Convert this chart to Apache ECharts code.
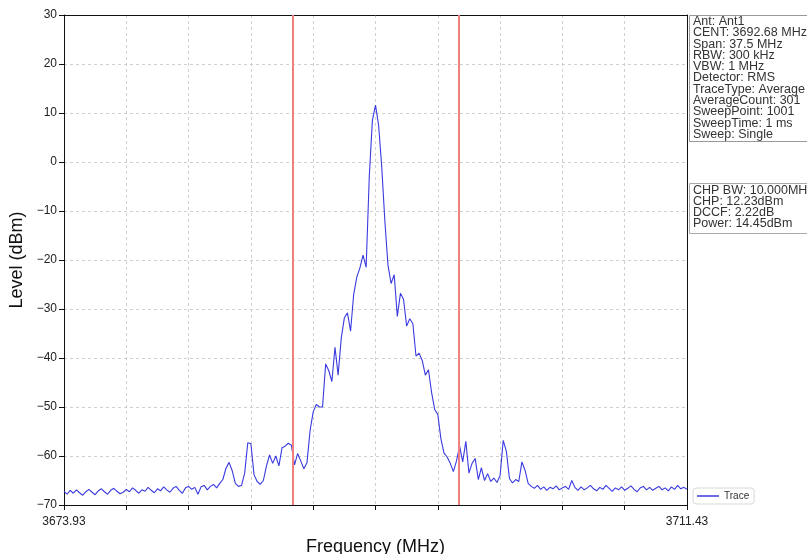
<!DOCTYPE html>
<html>
<head>
<meta charset="utf-8">
<script src="https://cdn.jsdelivr.net/npm/echarts@6/dist/echarts.min.js"></script>
<style>
  html, body { margin: 0; padding: 0; background: #fff; }
  #spectrum-box { width: 807px; height: 554px; }
</style>
</head>
<body>
<div id="spectrum-box"></div>
<script>
// sweep: 201 samples, 0.1875 MHz apart, from 3673.93 MHz
const startFreq = 3673.93;
const stepMHz = 0.1875;
const levels = [
  -67.2, -67.8, -67.0, -67.6, -66.9, -67.5, -68.0, -67.3, -66.8, -67.4,
  -67.9, -67.1, -66.7, -67.3, -67.8, -67.0, -66.6, -67.2, -67.7, -67.4,
  -66.8, -67.3, -66.5, -67.0, -67.6, -66.9, -67.2, -66.4, -67.0, -67.5,
  -66.7, -67.1, -66.3, -66.9, -67.4, -66.6, -66.2, -67.0, -67.6, -66.5,
  -66.2, -66.8, -66.4, -67.8, -66.3, -66.0, -66.9, -66.2, -65.8, -66.5,
  -65.6, -64.8, -62.5, -61.3, -63.0, -65.6, -66.2, -66.0, -63.5, -57.3,
  -57.5, -63.8, -65.2, -65.8, -65.0, -62.0, -59.8, -61.5, -60.0, -62.0,
  -58.3, -58.0, -57.4, -57.8, -61.8, -59.5, -61.0, -62.6, -61.4, -54.8,
  -51.0, -49.5, -50.0, -50.0, -41.2, -42.6, -44.8, -37.8, -43.5, -36.0,
  -31.8, -30.8, -34.5, -27.0, -23.5, -21.6, -19.0, -21.5, -3.0, 8.5,
  11.6, 7.5, -1.0, -12.0, -21.0, -24.8, -23.0, -31.5, -26.8, -28.0,
  -33.5, -32.0, -33.0, -39.6, -39.0, -40.5, -43.5, -42.4, -47.0, -50.5,
  -51.5, -56.5, -59.4, -60.2, -61.5, -63.2, -61.0, -58.0, -61.2, -57.0,
  -63.5, -61.5, -60.5, -64.8, -62.4, -65.0, -63.6, -65.2, -64.5, -65.4,
  -64.0, -56.8, -59.0, -64.6, -65.5, -64.8, -65.2, -61.2, -62.9, -65.6,
  -66.2, -66.6, -66.0, -66.8, -66.3, -67.0, -66.4, -66.7, -66.1, -66.9,
  -66.5, -66.2, -66.8, -65.0, -66.4, -67.0, -66.3, -66.9, -66.5, -66.0,
  -66.7, -67.1, -66.4, -66.8, -66.0, -66.6, -67.2, -66.5, -66.9, -66.3,
  -67.0, -66.6, -66.1, -66.8, -67.3, -66.5, -66.2, -66.9, -66.4, -67.0,
  -66.6, -66.2, -66.9, -66.5, -67.1, -66.3, -66.8, -66.0, -66.7, -66.4,
  -66.8
];
// channel power edges (MHz from start)
const chpEdges = [13.75, 23.75];
const xEdgeLabels = ["3673.93", "3711.43"];
const infoLines = [
  "Ant: Ant1",
  "CENT: 3692.68 MHz",
  "Span: 37.5 MHz",
  "RBW: 300 kHz",
  "VBW: 1 MHz",
  "Detector: RMS",
  "TraceType: Average",
  "AverageCount: 301",
  "SweepPoint: 1001",
  "SweepTime: 1 ms",
  "Sweep: Single",
];
const chpLines = [
  "CHP BW: 10.000MHz",
  "CHP: 12.23dBm",
  "DCCF: 2.22dB",
  "Power: 14.45dBm",
];

const font = "'Liberation Sans', Arial, sans-serif";
const traceData = levels.map((v, i) => [i * stepMHz, v]);
const frameAxis = {
  axisLine: { show: true, onZero: false, lineStyle: { color: "#111" } },
  axisTick: { show: false },
  axisLabel: { show: false },
  splitLine: { show: false },
};

const option = {
  animation: false,
  backgroundColor: "#fff",
  textStyle: { fontFamily: font },
  grid: {
    left: 64,
    right: 120,
    top: 15,
    bottom: 49,
    containLabel: false,
    outerBoundsMode: "none",
  },
  legend: {
    left: 693,
    top: 488,
    padding: [3, 5, 3, 4],
    itemWidth: 22,
    itemHeight: 1.5,
    borderColor: "#d8d8d8",
    borderWidth: 1,
    borderRadius: 3,
    textStyle: { fontSize: 10, color: "#333", fontFamily: font },
    data: [{ name: "Trace", icon: "rect" }],
  },
  xAxis: [
    {
      type: "value",
      min: 0,
      max: 37.5,
      interval: 3.75,
      name: "Frequency (MHz)",
      nameLocation: "middle",
      nameGap: 33,
      nameTextStyle: { fontSize: 18, color: "#111", fontFamily: font },
      axisLine: { show: true, onZero: false, lineStyle: { color: "#111" } },
      axisTick: { show: true, length: 5, lineStyle: { color: "#111" } },
      axisLabel: {
        margin: 11,
        fontSize: 12,
        color: "#222",
        showMinLabel: true,
        showMaxLabel: true,
        formatter: (v) => {
          if (v === 0) return xEdgeLabels[0];
          if (Math.abs(v - 37.5) < 1e-6) return xEdgeLabels[1];
          return "";
        },
      },
      splitLine: {
        show: true,
        lineStyle: { color: "#c4c4c4", type: [3, 3], width: 0.8 },
      },
    },
    Object.assign({ type: "value", position: "top", min: 0, max: 37.5 }, frameAxis),
  ],
  yAxis: [
    {
      type: "value",
      min: -70,
      max: 30,
      interval: 10,
      name: "Level (dBm)",
      nameLocation: "middle",
      nameGap: 34,
      nameTextStyle: { fontSize: 18, color: "#111", fontFamily: font },
      axisLine: { show: true, lineStyle: { color: "#111" } },
      axisTick: { show: true, length: 5, lineStyle: { color: "#111" } },
      axisLabel: {
        margin: 7,
        fontSize: 12,
        color: "#222",
        formatter: (v) => (v < 0 ? "\u2212" + Math.abs(v) : String(v)),
      },
      splitLine: {
        show: true,
        lineStyle: { color: "#c4c4c4", type: [3, 3], width: 0.8 },
      },
    },
    Object.assign({ type: "value", position: "right", min: -70, max: 30 }, frameAxis),
  ],
  series: [
    {
      name: "Trace",
      type: "line",
      symbol: "none",
      data: traceData,
      lineStyle: { color: "#3a3ae0", width: 1.1 },
      itemStyle: { color: "#3a3ae0" },
      markLine: {
        silent: true,
        symbol: "none",
        label: { show: false },
        lineStyle: { color: "#f08080", width: 2, type: "solid" },
        data: chpEdges.map((x) => ({ xAxis: x })),
      },
    },
  ],
  graphic: [
    {
      type: "rect",
      left: 689,
      top: 15,
      shape: { width: 130, height: 126 },
      style: { fill: "#fff", stroke: "#999", lineWidth: 1 },
    },
    {
      type: "text",
      left: 693,
      top: 15,
      style: {
        text: infoLines.join("\n"),
        font: "12.5px " + font,
        lineHeight: 11.3,
        fill: "#333",
      },
    },
    {
      type: "rect",
      left: 689,
      top: 183,
      shape: { width: 130, height: 50 },
      style: { fill: "#fff", stroke: "#aaa", lineWidth: 1 },
    },
    {
      type: "text",
      left: 693,
      top: 184,
      style: {
        text: chpLines.join("\n"),
        font: "12.5px " + font,
        lineHeight: 11,
        fill: "#333",
      },
    },
  ],
};

const spectrumBox = echarts.init(document.getElementById("spectrum-box"));
spectrumBox.setOption(option);
</script>
</body>
</html>
